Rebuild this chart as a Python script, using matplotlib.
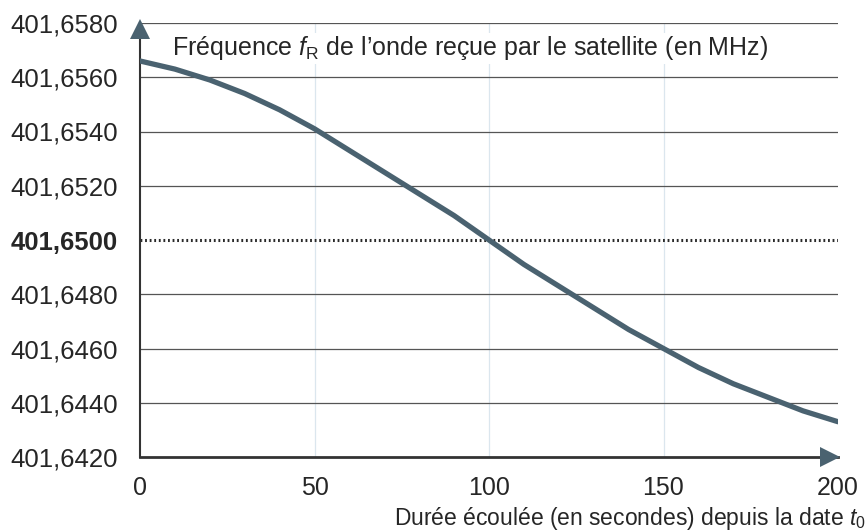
import matplotlib
matplotlib.use("Agg")
import matplotlib.pyplot as plt

plt.rcParams['font.family'] = ['Liberation Sans', 'DejaVu Sans']
plt.rcParams['mathtext.fontset'] = 'custom'
plt.rcParams['mathtext.rm'] = 'Liberation Sans'
plt.rcParams['mathtext.it'] = 'Liberation Sans:italic'

# Data
t_seconds = [0, 10, 20, 30, 40, 50, 60, 70, 75, 80, 90, 100, 110, 120, 125,
             130, 140, 150, 160, 170, 180, 190, 200]
f_mhz = [401.6566, 401.6563, 401.6559, 401.6554, 401.6548, 401.6541, 401.6533,
         401.6525, 401.6521, 401.6517, 401.6509, 401.6500, 401.6491, 401.6483,
         401.6479, 401.6475, 401.6467, 401.6460, 401.6453, 401.6447, 401.6442,
         401.6437, 401.6433]

x_ticks = [0, 50, 100, 150, 200]
x_tick_labels = ["0", "50", "100", "150", "200"]
y_ticks = [401.6420, 401.6440, 401.6460, 401.6480, 401.6500,
           401.6520, 401.6540, 401.6560, 401.6580]
y_tick_labels = ["401,6420", "401,6440", "401,6460", "401,6480", "401,6500",
                 "401,6520", "401,6540", "401,6560", "401,6580"]
y_ref = 401.6500

title_text = "Fréquence $f_\\mathrm{R}$ de l’onde reçue par le satellite (en MHz)"
xlabel_text = "Durée écoulée (en secondes) depuis la date $t_0$"

W, H = 868, 532
fig = plt.figure(figsize=(W / 100, H / 100), dpi=100)
left, right, bottom, top = 140, 838, 457, 23
ax = fig.add_axes([left / W, 1 - bottom / H, (right - left) / W, (bottom - top) / H])

ax.set_xlim(0, 200)
ax.set_ylim(y_ticks[0], y_ticks[-1])

text_color = '#262626'
curve_color = '#4a6270'

# horizontal grid lines
for yv in y_ticks[1:]:
    if abs(yv - y_ref) < 1e-9:
        continue
    ax.axhline(yv, color='#555555', lw=0.9, zorder=1)
ax.axhline(y_ref, color='#2a2a2a', lw=2.2, linestyle=(0, (0.6, 0.9)), zorder=1)

# faint vertical grid lines
for xv in x_ticks[1:-1]:
    ax.axvline(xv, color='#dbe6ee', lw=0.9, zorder=0)

ax.plot(t_seconds, f_mhz, color=curve_color, lw=3.8, solid_capstyle='round',
        solid_joinstyle='round', zorder=3)

# axes styling
for s in ['top', 'right']:
    ax.spines[s].set_visible(False)
ax.spines['left'].set_color('#333333')
ax.spines['left'].set_linewidth(1.5)
ax.spines['bottom'].set_color('#333333')
ax.spines['bottom'].set_linewidth(2.0)

ax.set_xticks(x_ticks)
ax.set_xticklabels(x_tick_labels, fontsize=18, color=text_color)
ax.set_yticks(y_ticks)
ax.set_yticklabels(y_tick_labels, fontsize=18.5, color=text_color)
ax.tick_params(axis='both', length=0)
ax.tick_params(axis='x', pad=14)
ax.tick_params(axis='y', pad=16)
for lab, yv in zip(ax.get_yticklabels(), y_ticks):
    if abs(yv - y_ref) < 1e-9:
        lab.set_fontweight('bold')

# arrow heads
ax_h = bottom - top
ax_w = right - left
ax.plot([0], [1 - 6 / ax_h], marker='^', markersize=15, color=curve_color,
        transform=ax.transAxes, clip_on=False, zorder=5, markeredgewidth=0)
ax.plot([1 - 8 / ax_w], [0], marker='>', markersize=14, color=curve_color,
        transform=ax.transAxes, clip_on=False, zorder=5, markeredgewidth=0)

ax.text(32 / ax_w, 1 - 25 / ax_h, title_text, transform=ax.transAxes,
        fontsize=18, color=text_color, ha='left', va='center',
        bbox=dict(facecolor='white', edgecolor='none', pad=1))

fig.text(866 / W, 1 - 518 / H, xlabel_text, fontsize=16.5, color=text_color,
         ha='right', va='center')

fig.savefig("out.png", dpi=100)
